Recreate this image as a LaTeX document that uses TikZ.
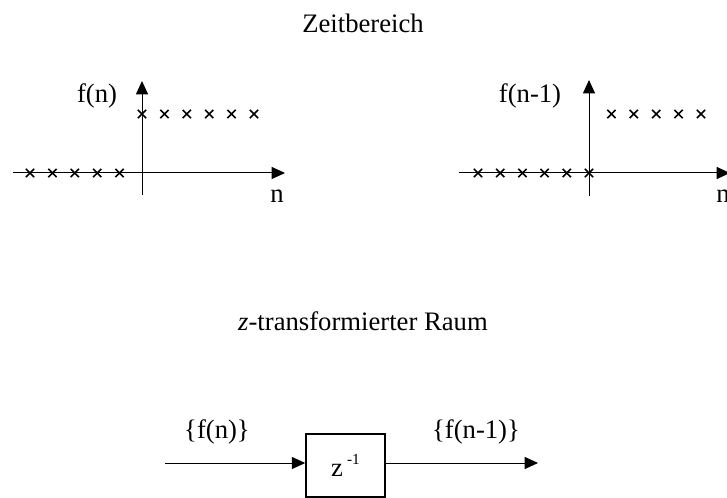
\documentclass[tikz,border=0pt]{standalone}
\usepackage{fontspec}
\setmainfont{Liberation Serif}
\usetikzlibrary{arrows.meta,shapes.misc,positioning}

\begin{document}
\begin{tikzpicture}[x=0.75pt, y=-0.75pt, font=\fontsize{20}{24}\selectfont]
        \tikzstyle{axis}=[draw, line width=0.75pt, -{Triangle[length=10pt,width=9pt]}]
        \tikzstyle{xmark}=[draw, cross out, minimum size=5pt, inner sep=0pt, line width=1.2pt]
        \tikzstyle{block}=[draw, rectangle, line width=1.4pt, minimum width=59pt, minimum height=47pt]
        \tikzstyle{lbl}=[anchor=base, inner sep=0pt]

        \useasboundingbox (0,0) rectangle (727,498);

        \node[lbl] (zeit) at (363,33) {Zeitbereich};
        \node[lbl] (zraum) at (363,331) {\textit{z}-transformierter Raum};

        % f(n)
        \coordinate (o1) at (142,173);
        \coordinate (w1) at (13,173);
        \coordinate (e1) at (285,173);
        \coordinate (s1) at (142,195);
        \coordinate (t1) at (142,81);
        \draw[axis] (w1) -- (e1);
        \draw[axis] (s1) -- (t1);
        \node[lbl] (fn) at (97,103) {f(n)};
        \node[lbl] (n1) at (277,203) {n};
        \foreach \k in {1,...,5} \node[xmark] (a\k) at (142-22.4*\k,173) {};
        \foreach \k in {0,...,5} \node[xmark] (b\k) at (142+22.4*\k,114) {};

        % f(n-1)
        \coordinate (o2) at (589,173);
        \coordinate (w2) at (459,173);
        \coordinate (e2) at (730,173);
        \coordinate (s2) at (589,196);
        \coordinate (t2) at (589,80);
        \draw[axis] (w2) -- (e2);
        \draw[axis] (s2) -- (t2);
        \node[lbl] (fn1) at (530,103) {f(n-1)};
        \node[lbl] (n2) at (723,203) {n};
        \foreach \k in {0,...,5} \node[xmark] (c\k) at (589-22.2*\k,173) {};
        \foreach \k in {1,...,5} \node[xmark] (d\k) at (589+22.4*\k,114) {};

        % Verzoegerungsglied
        \node[block] (delay) at (345.5,465.5) {z\hspace{3pt}\raisebox{9pt}{\fontsize{11.5}{13}\selectfont -1}};
        \coordinate (in) at (165,463);
        \coordinate (out) at (538,463);
        \draw[axis] (in) -- (delay.west |- in);
        \draw[axis] (delay.east |- out) -- (out);
        \node[lbl] (xin) at (217,438) {\{f(n)\}};
        \node[lbl] (xout) at (476,438) {\{f(n-1)\}};
    \end{tikzpicture}
\end{document}
